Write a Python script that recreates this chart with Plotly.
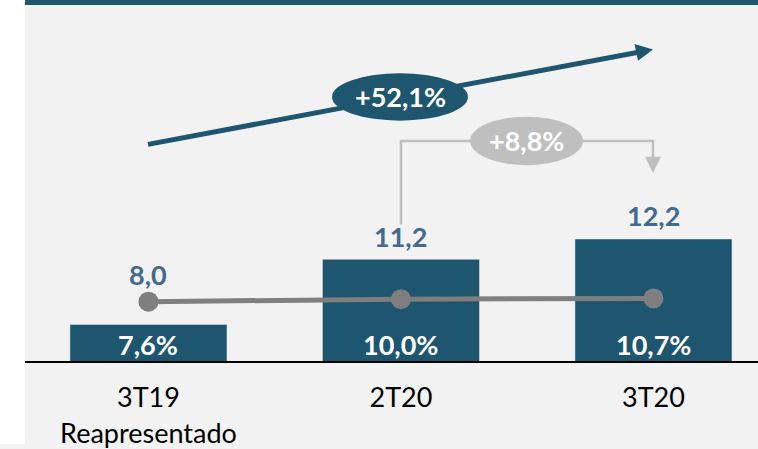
import plotly.graph_objects as go

# ---- data ----
categories = ["3T19", "2T20", "3T20"]
tick_labels = ["3T19<br>Reapresentado", "2T20", "3T20"]
values = [8.0, 11.2, 12.2]          # bar values
margins = [7.6, 10.0, 10.7]         # line values (%)
growth_total = "+52,1%"
growth_qoq = "+8,8%"

# ---- styles ----
TEAL = "#1e566f"
GRAY_LINE = "#7f7f7f"
LIGHT = "#bfbfbf"
LABEL_BLUE = "#44698f"
BG = "#f2f2f2"
FONT = "Lato"

W, H = 758, 449
L, R, T, B = 25, 0, 0, 84
PW, PH = W - L - R, H - T - B


def px(x, y):
    return (x - L) / PW, (PH - (y - T)) / PH


def fmt(v):
    return f"{v:.1f}".replace(".", ",")


fig = go.Figure()
fig.add_trace(go.Bar(
    x=categories, y=values, marker_color=TEAL, width=0.622,
    hoverinfo="skip", showlegend=False,
))
fig.add_trace(go.Scatter(
    x=categories, y=margins, yaxis="y2", mode="lines+markers",
    line=dict(color=GRAY_LINE, width=5), marker=dict(size=20, color=GRAY_LINE),
    hoverinfo="skip", showlegend=False,
))

annotations = []
label_shift = [50, 23, 23]
for c, v, s in zip(categories, values, label_shift):
    annotations.append(dict(
        x=c, y=v, xref="x", yref="y", text=f"<b>{fmt(v)}</b>", showarrow=False,
        xanchor="center", yanchor="middle", yshift=s,
        font=dict(family=FONT, size=27, color=LABEL_BLUE),
    ))
for c, m in zip(categories, margins):
    annotations.append(dict(
        x=c, y=6.2, xref="x", yref="y", text=f"<b>{fmt(m)}%</b>", showarrow=False,
        xanchor="center", yanchor="middle", yshift=17,
        font=dict(family=FONT, size=27, color="white"),
    ))

shapes = []
# white left strip
shapes.append(dict(type="rect", xref="paper", yref="paper", x0=-L / PW, x1=0,
                   y0=-B / PH, y1=1, fillcolor="white", line_width=0, layer="above"))
# top band
x0, y0 = px(L, 0)
x1, y1 = px(W, 5)
shapes.append(dict(type="rect", xref="paper", yref="paper", x0=x0, x1=x1, y0=y1, y1=y0,
                   fillcolor=TEAL, line_width=0, layer="above"))

# big arrow
sx, sy = px(148, 146)
bx, by = px(637, 53)
shapes.append(dict(type="line", xref="paper", yref="paper", x0=sx, y0=sy, x1=bx, y1=by,
                   line=dict(color=TEAL, width=5), layer="above"))
pts = [px(653, 50), px(638, 61.5), px(634.5, 44.5)]
path = "M {} {} L {} {} L {} {} Z".format(*[c for p in pts for c in p])
shapes.append(dict(type="path", xref="paper", yref="paper", path=path,
                   fillcolor=TEAL, line=dict(color=TEAL, width=0), layer="above"))
# big oval
ox0, oy0 = px(332, 74)
ox1, oy1 = px(468, 122)
shapes.append(dict(type="circle", xref="paper", yref="paper", x0=ox0, x1=ox1, y0=oy1, y1=oy0,
                   fillcolor=TEAL, line_width=0, layer="above"))
cx, cy = px(400, 98)
annotations.append(dict(x=cx, y=cy, xref="paper", yref="paper", text=f"<b>{growth_total}</b>",
                        showarrow=False, xanchor="center", yanchor="middle",
                        font=dict(family=FONT, size=27, color="white")))

# bracket
p = [px(401, 227), px(401, 142.5), px(653, 142.5), px(653, 160)]
path = "M {} {} L {} {} L {} {} L {} {}".format(*[c for q in p for c in q])
shapes.append(dict(type="path", xref="paper", yref="paper", path=path,
                   line=dict(color=LIGHT, width=2.5), layer="above"))
pts = [px(653, 175), px(645, 158.5), px(661, 158.5)]
path = "M {} {} L {} {} L {} {} Z".format(*[c for q in pts for c in q])
shapes.append(dict(type="path", xref="paper", yref="paper", path=path,
                   fillcolor=LIGHT, line=dict(color=LIGHT, width=0), layer="above"))
gx0, gy0 = px(470, 118)
gx1, gy1 = px(583, 167)
shapes.append(dict(type="circle", xref="paper", yref="paper", x0=gx0, x1=gx1, y0=gy1, y1=gy0,
                   fillcolor=LIGHT, line_width=0, layer="above"))
cx, cy = px(526.5, 142.5)
annotations.append(dict(x=cx, y=cy, xref="paper", yref="paper", text=f"<b>{growth_qoq}</b>",
                        showarrow=False, xanchor="center", yanchor="middle",
                        font=dict(family=FONT, size=27, color="white")))

fig.update_layout(
    width=W, height=H,
    margin=dict(l=L, r=R, t=T, b=B, pad=0),
    paper_bgcolor=BG, plot_bgcolor=BG,
    xaxis=dict(
        type="category", range=[-0.489, 2.414], tickvals=categories, ticktext=tick_labels,
        showline=True, linecolor="black", linewidth=2, showgrid=False, zeroline=False,
        ticks="", ticklabelstandoff=12,
        tickfont=dict(family=FONT, size=27, color="black"),
    ),
    yaxis=dict(range=[6.2, 23.95], visible=False, showgrid=False, zeroline=False),
    yaxis2=dict(range=[-48.7, 294.0], overlaying="y", visible=False, showgrid=False,
                zeroline=False),
    shapes=shapes,
    annotations=annotations,
    showlegend=False,
)

fig.write_html(
    "out.html",
    config={"displayModeBar": False, "staticPlot": True},
    post_script="document.body.style.margin='0';document.body.style.overflow='hidden';",
)
